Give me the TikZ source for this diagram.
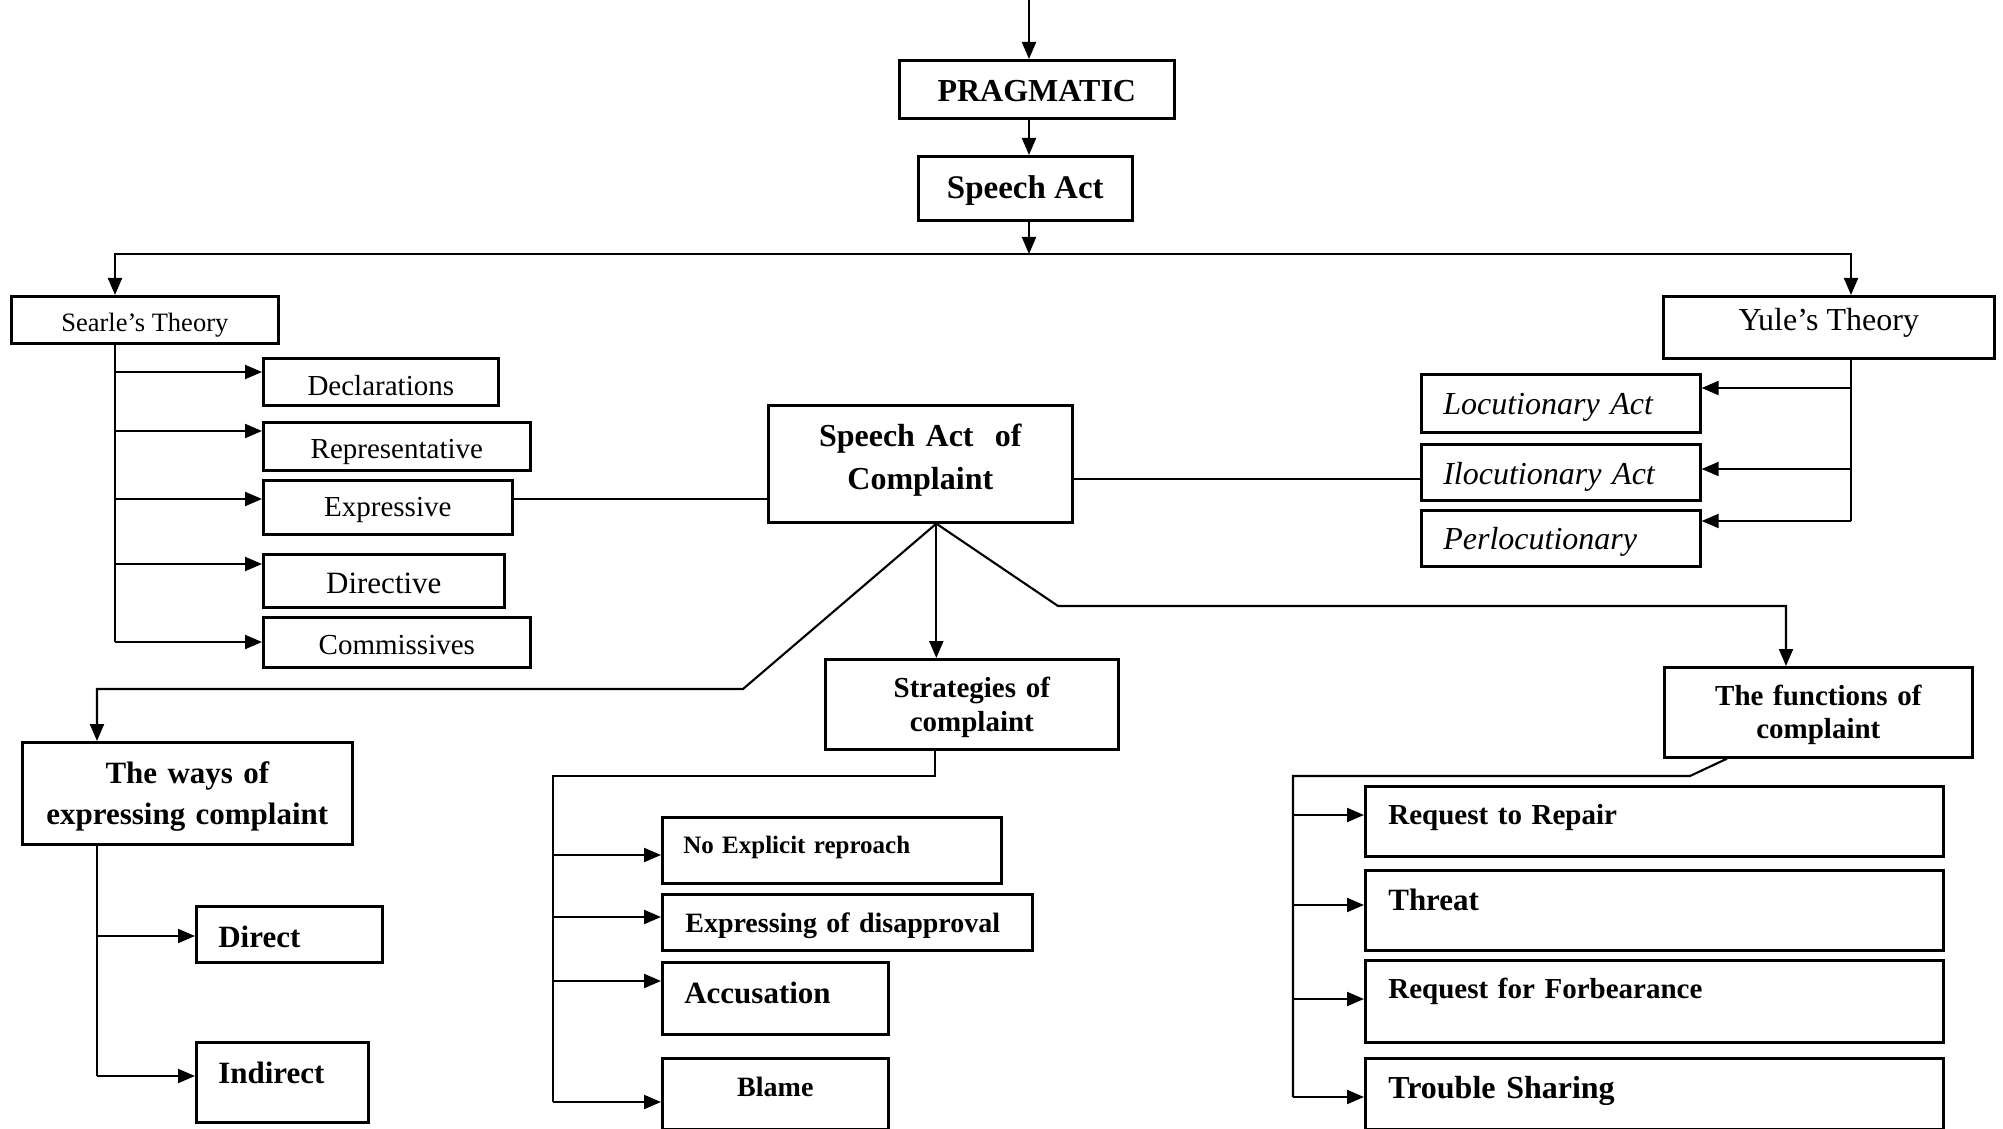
\documentclass[tikz,border=0pt]{standalone}
\usepackage{fontspec}
\setmainfont{Liberation Serif}
\usetikzlibrary{arrows.meta,calc}
\newcommand\fb[2]{\fontsize{#1}{#2}\selectfont\bfseries}
\newcommand\fr[2]{\fontsize{#1}{#2}\selectfont}
\newcommand\fit[2]{\fontsize{#1}{#2}\selectfont\itshape}
\newcommand\lp{\hspace*{0.22cm}}
\begin{document}
\begin{tikzpicture}[
  box/.style={draw, line width=0.75pt, inner sep=0pt, anchor=north west},
  ln/.style={line width=0.6pt},
  arr/.style={ln, -{Triangle[length=0.17cm,width=0.14cm]}}
]
\useasboundingbox (0,0) rectangle (20.03,-11.29);

% ---- top chain
\node[box, minimum width=2.75cm, minimum height=0.58cm, text height=0.24cm, text depth=0pt, font=\fb{0.32cm}{0.38cm}] (prag) at (8.98,-0.59) {PRAGMATIC};
\node[box, minimum width=2.14cm, minimum height=0.64cm, text height=0.20cm, text depth=0pt, font=\fb{0.33cm}{0.39cm}] (sa) at (9.17,-1.55) {Speech Act};

% ---- theories
\node[box, minimum width=2.67cm, minimum height=0.47cm, text height=0.23cm, text depth=0pt, font=\fr{0.265cm}{0.32cm}] (searle) at (0.10,-2.95) {Searle’s Theory};
\node[box, minimum width=3.31cm, minimum height=0.62cm, text height=0.06cm, text depth=0pt, font=\fr{0.32cm}{0.38cm}] (yule) at (16.62,-2.95) {Yule’s Theory};

% ---- Searle children
\node[box, minimum width=2.35cm, minimum height=0.47cm, text height=0.27cm, text depth=0pt, font=\fr{0.29cm}{0.35cm}] (decl) at (2.62,-3.57) {Declarations};
\node[box, minimum width=2.67cm, minimum height=0.48cm, text height=0.24cm, text depth=0pt, font=\fr{0.29cm}{0.35cm}] (repr) at (2.62,-4.21) {Representative};
\node[box, minimum width=2.49cm, minimum height=0.54cm, text height=0.18cm, text depth=0pt, font=\fr{0.29cm}{0.35cm}] (expr) at (2.62,-4.79) {Expressive};
\node[box, minimum width=2.41cm, minimum height=0.53cm, text height=0.25cm, text depth=0pt, font=\fr{0.31cm}{0.37cm}] (dire) at (2.62,-5.53) {Directive};
\node[box, minimum width=2.67cm, minimum height=0.50cm, text height=0.24cm, text depth=0pt, font=\fr{0.29cm}{0.35cm}] (comm) at (2.62,-6.16) {Commissives};

% ---- Yule children
\node[box, minimum width=2.79cm, minimum height=0.58cm, text width=2.79cm, align=left, text height=0.22cm, text depth=0pt, font=\fit{0.32cm}{0.38cm}] (locu) at (14.20,-3.73) {\lp Locutionary Act};
\node[box, minimum width=2.79cm, minimum height=0.56cm, text width=2.79cm, align=left, text height=0.24cm, text depth=0pt, font=\fit{0.32cm}{0.38cm}] (ilocu) at (14.20,-4.43) {\lp Ilocutionary Act};
\node[box, minimum width=2.79cm, minimum height=0.56cm, text width=2.79cm, align=left, text height=0.22cm, text depth=0pt, font=\fit{0.32cm}{0.38cm}] (perl) at (14.20,-5.09) {\lp Perlocutionary};

% ---- centre
\node[box, minimum width=3.04cm, minimum height=1.17cm, text width=3.04cm, align=center, text height=0pt, text depth=0.35cm, font=\fb{0.32cm}{0.43cm}] (sac) at (7.67,-4.04) {Speech Act\ \ of\\Complaint};

% ---- second level
\node[box, minimum width=2.93cm, minimum height=0.90cm, text width=2.93cm, align=center, text height=0pt, text depth=0.14cm, font=\fb{0.29cm}{0.34cm}] (strat) at (8.24,-6.58) {Strategies of\\complaint};
\node[box, minimum width=3.30cm, minimum height=1.02cm, text width=3.30cm, align=center, text height=0pt, text depth=0.20cm, font=\fb{0.31cm}{0.41cm}] (ways) at (0.21,-7.41) {The ways of\\expressing complaint};
\node[box, minimum width=3.08cm, minimum height=0.90cm, text width=3.08cm, align=center, text height=0pt, text depth=0.14cm, font=\fb{0.29cm}{0.33cm}] (func) at (16.63,-6.66) {The functions of\\complaint};

% ---- ways children
\node[box, minimum width=1.86cm, minimum height=0.56cm, text width=1.86cm, align=left, text height=0.26cm, text depth=0pt, font=\fb{0.31cm}{0.37cm}] (direct) at (1.95,-9.05) {\lp Direct};
\node[box, minimum width=1.72cm, minimum height=0.80cm, text width=1.72cm, align=left, text height=0.02cm, text depth=0pt, font=\fb{0.31cm}{0.37cm}] (indirect) at (1.95,-10.41) {\lp Indirect};

% ---- strategies children
\node[box, minimum width=3.39cm, minimum height=0.66cm, text width=3.39cm, align=left, text height=0.06cm, text depth=0pt, font=\fb{0.25cm}{0.30cm}] (noexp) at (6.61,-8.16) {\hspace*{0.21cm}No Explicit reproach};
\node[box, minimum width=3.70cm, minimum height=0.56cm, text width=3.70cm, align=left, text height=0.20cm, text depth=0pt, font=\fb{0.28cm}{0.34cm}] (expd) at (6.61,-8.93) {\hspace*{0.23cm}Expressing of disapproval};
\node[box, minimum width=2.26cm, minimum height=0.72cm, text width=2.26cm, align=left, text height=0.10cm, text depth=0pt, font=\fb{0.31cm}{0.37cm}] (accu) at (6.61,-9.61) {\lp Accusation};
\node[box, minimum width=2.26cm, minimum height=0.71cm, text height=0.05cm, text depth=0pt, font=\fb{0.28cm}{0.34cm}] (blame) at (6.61,-10.57) {Blame};

% ---- functions children
\node[box, minimum width=5.78cm, minimum height=0.70cm, text width=5.78cm, align=left, text height=0.06cm, text depth=0pt, font=\fb{0.29cm}{0.35cm}] (rrep) at (13.64,-7.85) {\hspace*{0.23cm}Request to Repair};
\node[box, minimum width=5.78cm, minimum height=0.80cm, text width=5.78cm, align=left, text height=0pt, text depth=0pt, font=\fb{0.31cm}{0.37cm}] (threat) at (13.64,-8.69) {\hspace*{0.23cm}Threat};
\node[box, minimum width=5.78cm, minimum height=0.82cm, text width=5.78cm, align=left, text height=0pt, text depth=0.06cm, font=\fb{0.29cm}{0.35cm}] (forb) at (13.64,-9.59) {\hspace*{0.23cm}Request for Forbearance};
\node[box, minimum width=5.78cm, minimum height=0.71cm, text width=5.78cm, align=left, text height=0.09cm, text depth=0pt, font=\fb{0.32cm}{0.38cm}] (troub) at (13.64,-10.57) {\hspace*{0.23cm}Trouble Sharing};

% ================= connectors
\coordinate (top) at (10.29,0);
\draw[arr] (top) -- (top |- prag.north);
\draw[arr] (prag.south -| top) -- (sa.north -| top);
\coordinate (br) at (10.29,-2.54);
\draw[arr] (sa.south -| br) -- (br);
\coordinate (sx) at (1.15,-2.54);
\coordinate (yx) at (18.51,-2.54);
\draw[arr] (br) -- (sx) -- (sx |- searle.north);
\draw[arr] (br) -- (yx) -- (yx |- yule.north);

% Searle trunk
\coordinate (sb) at (1.15,-6.42);
\draw[ln] (sx |- searle.south) -- (sb);
\foreach \n/\y in {decl/3.72, repr/4.31, expr/4.99, dire/5.64, comm/6.42} {
  \coordinate (tmp) at (1.15,-\y);
  \draw[arr] (tmp) -- (tmp -| \n.west);
}

% links to centre
\coordinate (e1) at (0,-4.99);
\draw[ln] (expr.east |- e1) -- (sac.west |- e1);
\coordinate (e2) at (0,-4.79);
\draw[ln] (sac.east |- e2) -- (ilocu.west |- e2);

% Yule trunk
\coordinate (yb) at (18.51,-5.21);
\draw[ln] (yx |- yule.south) -- (yb);
\foreach \n/\y in {locu/3.88, ilocu/4.69, perl/5.21} {
  \coordinate (tmp) at (18.51,-\y);
  \draw[arr] (tmp) -- (tmp -| \n.east);
}

% from Speech Act of Complaint
\coordinate (ap) at ([xshift=0.16cm]sac.south);
\coordinate (l1) at (7.43,-6.89);
\coordinate (l2) at (0.97,-6.89);
\draw[arr] (ap) -- (l1) -- (l2) -- (l2 |- ways.north);
\draw[arr] (ap) -- (ap |- strat.north);
\coordinate (r1) at (10.58,-6.06);
\coordinate (r2) at (17.86,-6.06);
\draw[arr] (ap) -- (r1) -- (r2) -- (r2 |- func.north);

% strategies trunk
\coordinate (s1) at (9.35,-7.76);
\coordinate (s2) at (5.53,-7.76);
\coordinate (s3) at (5.53,-11.02);
\draw[ln] (s1 |- strat.south) -- (s1) -- (s2) -- (s3);
\foreach \n/\y in {noexp/8.55, expd/9.17, accu/9.81, blame/11.02} {
  \coordinate (tmp) at (5.53,-\y);
  \draw[arr] (tmp) -- (tmp -| \n.west);
}

% ways trunk
\coordinate (w1) at (0.97,-10.76);
\draw[ln] (w1 |- ways.south) -- (w1);
\foreach \n/\y in {direct/9.36, indirect/10.76} {
  \coordinate (tmp) at (0.97,-\y);
  \draw[arr] (tmp) -- (tmp -| \n.west);
}

% functions trunk
\coordinate (f0) at (17.27,0);
\coordinate (f1) at (16.90,-7.76);
\coordinate (f2) at (12.93,-7.76);
\coordinate (f3) at (12.93,-10.97);
\draw[ln] (f0 |- func.south) -- (f1) -- (f2) -- (f3);
\foreach \n/\y in {rrep/8.15, threat/9.05, forb/9.99, troub/10.97} {
  \coordinate (tmp) at (12.93,-\y);
  \draw[arr] (tmp) -- (tmp -| \n.west);
}
\end{tikzpicture}
\end{document}
